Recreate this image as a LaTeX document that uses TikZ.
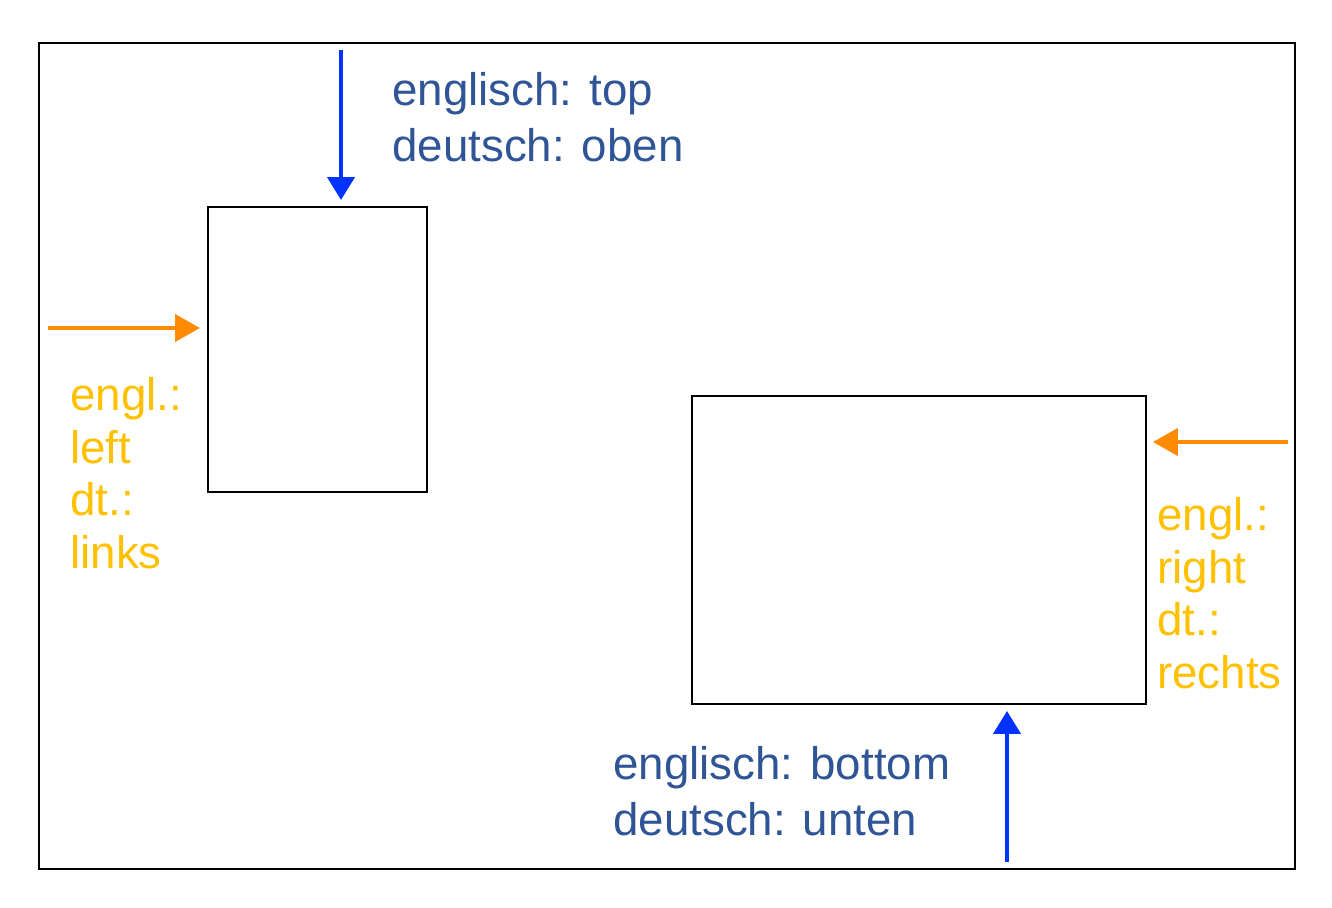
\documentclass[tikz,border=0pt]{standalone}
\usepackage{fontspec}
\setmainfont{Liberation Sans}
\usetikzlibrary{arrows.meta}
\usetikzlibrary{positioning}
\definecolor{textblue}{RGB}{47,85,151}
\definecolor{arrowblue}{RGB}{0,51,255}
\definecolor{arroworange}{RGB}{255,140,0}
\definecolor{textorange}{RGB}{255,192,0}
\tikzstyle{box} = [draw=black, line width=1.1pt, inner sep=0pt, outer sep=0pt, anchor=north west]
\tikzstyle{bluearrow} = [arrowblue, line width=2.4pt, -{Triangle[length=0.46cm, width=0.54cm]}]
\tikzstyle{orangearrow} = [arroworange, line width=2.4pt, -{Triangle[length=0.5cm, width=0.54cm]}]
\tikzstyle{bluetext} = [textblue, inner sep=0pt, anchor=base west, align=left, font=\fontsize{26pt}{31.8pt}\selectfont]
\tikzstyle{orangetext} = [textorange, inner sep=0pt, anchor=base west, align=left, font=\fontsize{26pt}{29.8pt}\selectfont]

\begin{document}
\begin{tikzpicture}[x=0.02cm, y=-0.02cm]

  \useasboundingbox (0,0) rectangle (1332,908);

  % frame
  \draw[line width=1.1pt] (39,43) rectangle (1295,869);

  % boxes
  \node[box, minimum width=4.38cm, minimum height=5.7cm] (leftbox) at (208,207) {};
  \node[box, minimum width=9.08cm, minimum height=6.16cm] (rightbox) at (692,396) {};

  % arrows
  \coordinate (topstart) at (341,50);
  \coordinate (leftstart) at (48,328);
  \coordinate (rightstart) at (1288,442);
  \coordinate (bottomstart) at (1007,862);
  \draw[bluearrow, shorten >=0.14cm] (topstart) -- (topstart |- leftbox.north);
  \draw[orangearrow, shorten >=0.16cm] (leftstart) -- (leftbox.west |- leftstart);
  \draw[orangearrow, shorten >=0.14cm] (rightstart) -- (rightbox.east |- rightstart);
  \draw[bluearrow, shorten >=0.14cm] (bottomstart) -- (bottomstart |- rightbox.south);

  % texts (base = last line)
  \node[bluetext] (toptext) at (392,161.5) {englisch: top\\deutsch: oben};
  \node[orangetext] (lefttext) at (70,568) {engl.:\\left\\dt.:\\links};
  \node[orangetext] (righttext) at (1157,688) {engl.:\\right\\dt.:\\rechts};
  \node[bluetext] (bottomtext) at (613,835) {englisch: bottom\\deutsch: unten};

\end{tikzpicture}
\end{document}
